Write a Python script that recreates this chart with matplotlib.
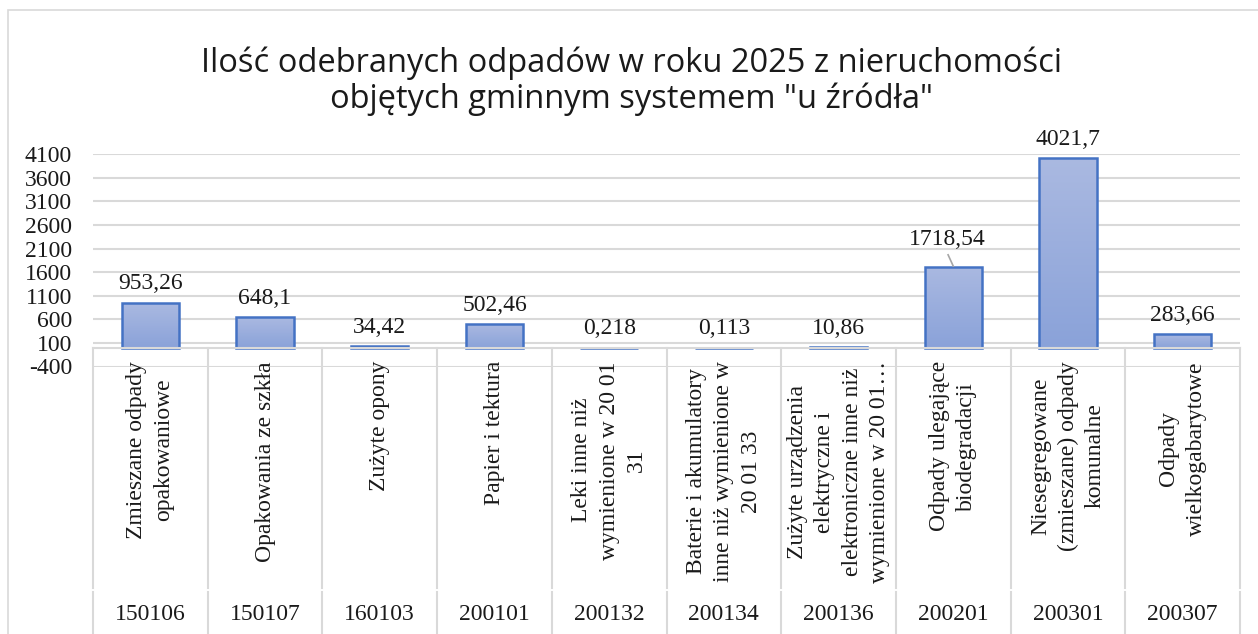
import numpy as np
import matplotlib.pyplot as plt
from matplotlib.patches import Rectangle
from matplotlib.lines import Line2D
from matplotlib.colors import LinearSegmentedColormap

# dane z wykresu
kody = ['150106', '150107', '160103', '200101', '200132',
        '200134', '200136', '200201', '200301', '200307']
nazwy = ['Zmieszane odpady\nopakowaniowe',
         'Opakowania ze szkła',
         'Zużyte opony',
         'Papier i tektura',
         'Leki inne niż\nwymienione w 20 01\n31',
         'Baterie i akumulatory\ninne niż wymienione w\n20 01 33',
         'Zużyte urządzenia\nelektryczne i\nelektroniczne inne niż\nwymienione w 20 01…',
         'Odpady ulegające\nbiodegradacji',
         'Niesegregowane\n(zmieszane) odpady\nkomunalne',
         'Odpady\nwielkogabarytowe']
masa = [953.26, 648.1, 34.42, 502.46, 0.218, 0.113, 10.86, 1718.54, 4021.7, 283.66]
etykiety = ['953,26', '648,1', '34,42', '502,46', '0,218', '0,113', '10,86',
            '1718,54', '4021,7', '283,66']
y_ticks = list(range(-400, 4101, 500))

W, H = 1258, 634
serif = ['Liberation Serif', 'DejaVu Serif']
sans = ['Open Sans', 'DejaVu Sans']
kolor_txt = '#1a1a1a'
siatka = '#D9D9D9'

fig = plt.figure(figsize=(W / 100, H / 100), dpi=100)
fig.patch.set_facecolor('white')

# ramka wykresu (widoczna tylko z lewej i u gory)
fig.add_artist(Rectangle((8 / W, -0.05), 1.1, 1.05 - 10 / H,
                         transform=fig.transFigure, fill=False,
                         edgecolor=siatka, lw=1.2))

x0, x1, ytop, ybot = 93, 1240, 154.3, 366.5
ax = fig.add_axes([x0 / W, 1 - ybot / H, (x1 - x0) / W, (ybot - ytop) / H])
ax.set_xlim(-0.5, len(masa) - 0.5)
ax.set_ylim(-400, 4100)
ax.set_yticks(y_ticks)
ax.set_yticklabels([str(t) for t in y_ticks], family=serif, fontsize=17, color=kolor_txt)
ax.tick_params(axis='y', length=0, pad=15)
ax.set_xticks([])
for s in ax.spines.values():
    s.set_visible(False)
ax.grid(axis='y', color=siatka, lw=1.5)
ax.set_axisbelow(True)

# slupki z gradientem
grad = np.linspace(0, 1, 256).reshape(-1, 1)
cmap = LinearSegmentedColormap.from_list('g', ['#8AA2D9', '#AAB9E1'])
bars = ax.bar(range(len(masa)), masa, width=0.5, color='none',
              edgecolor='#4472C4', lw=1.8, zorder=3)
for b in bars:
    h = b.get_height()
    im = ax.imshow(grad, cmap=cmap, aspect='auto', origin='lower',
                   extent=(b.get_x(), b.get_x() + b.get_width(), 0, max(h, 1)),
                   zorder=2)
    im.set_clip_path(b)

# etykiety danych
for i, (v, t) in enumerate(zip(masa, etykiety)):
    if t == '1718,54':
        ax.text(i - 0.05, v + 580, t, ha='center', va='center', family=serif,
                fontsize=17, color=kolor_txt, zorder=5)
        ax.plot([i - 0.045, i], [v + 250, v + 10], color='#A6A6A6', lw=1.2, zorder=4)
    else:
        ax.text(i, v + 400, t, ha='center', va='center', family=serif,
                fontsize=17, color=kolor_txt, zorder=5)

# os kategorii (dwa poziomy)
def fy(p):
    return 1 - p / H

ytab, ymid, ybottom = 348, 590, 640
cw = (x1 - x0) / len(masa)
fig.add_artist(Line2D([x0 / W, x1 / W], [fy(ytab), fy(ytab)], color=siatka, lw=1.5))
for k in range(len(masa) + 1):
    xx = (x0 + k * cw) / W
    fig.add_artist(Line2D([xx, xx], [fy(ytab), fy(ymid - 2)], color=siatka, lw=1.5))
    fig.add_artist(Line2D([xx, xx], [fy(ymid + 2), fy(ybottom)], color=siatka, lw=1.5))
for k, (n, c) in enumerate(zip(nazwy, kody)):
    xc = (x0 + (k + 0.5) * cw) / W
    fig.text(xc, fy(361), n, rotation=90, ha='center', va='top',
             multialignment='center', family=serif, fontsize=17,
             color=kolor_txt, linespacing=1.4)
    fig.text(xc, fy(615), c, ha='center', va='center', family=serif,
             fontsize=17, color=kolor_txt)

fig.text(0.502, fy(81), 'Ilość odebranych odpadów w roku 2025 z nieruchomości\n'
         'objętych gminnym systemem "u źródła"', ha='center', va='center',
         family=sans, fontsize=23.5, color=kolor_txt, linespacing=1.1)

fig.savefig('out.png', dpi=100)
